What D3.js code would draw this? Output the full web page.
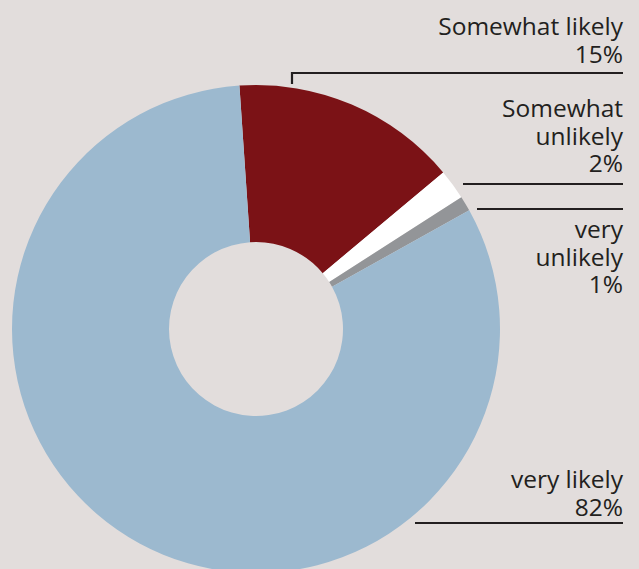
<!DOCTYPE html>
<html>
<head>
<meta charset="utf-8">
<script src="https://cdn.jsdelivr.net/npm/d3@7"></script>
<style>
  body { margin: 0; background: #e2dddc; }
  svg { display: block; }
</style>
</head>
<body>
<div id="container"></div>
<script>
/* DATA */
const categories = ["Somewhat likely", "Somewhat unlikely", "very unlikely", "very likely"];
const values = [15, 2, 1, 82];
const labelLines = [["Somewhat likely", "15%"], ["Somewhat", "unlikely", "2%"], ["very", "unlikely", "1%"], ["very likely", "82%"]];
const colors = ["#7b1216", "#ffffff", "#939598", "#9cb9cf"];

/* CONSTANTS */
const width = 639;
const height = 569;
const cx = 256, cy = 329;
const outerR = 244, innerR = 87;
const startA = -0.068;

const svg = d3.select("#container")
  .append("svg")
  .attr("width", width)
  .attr("height", height)
  .style("background-color", "#e2dddc");

const pie = d3.pie().sort(null).value((d) => d)
  .startAngle(startA).endAngle(startA + 2 * Math.PI);
const arc = d3.arc().innerRadius(innerR).outerRadius(outerR);

const colorScale = d3.scaleOrdinal().domain(categories).range(colors);

const arcs = pie(values);

svg.append("g")
  .attr("transform", `translate(${cx},${cy})`)
  .selectAll("path")
  .data(arcs)
  .join("path")
  .attr("d", arc)
  .attr("fill", (d, i) => colorScale(categories[i]));

// LABELS ---------------------------------------------
const labelRight = 623;
const lineH = 27.5;
// first baseline, leader y, leader start x
const labelPos = [
  { y: 35, ly: 73, lx: 292, tick: 11 },
  { y: 117, ly: 184, lx: 463, tick: 0 },
  { y: 238, ly: 209, lx: 477, tick: 0 },
  { y: 488, ly: 523, lx: 415, tick: 0 },
];

labelLines.forEach((lines, i) => {
  const p = labelPos[i];
  const t = svg.append("text")
    .attr("text-anchor", "end")
    .style("font-family", "'Open Sans', sans-serif")
    .style("font-size", "24.5px")
    .style("fill", "#231f20");
  lines.forEach((s, j) => {
    t.append("tspan")
      .attr("x", labelRight)
      .attr("y", p.y + j * lineH)
      .text(s);
  });
  svg.append("path")
    .attr("d", `M${p.lx},${p.ly + p.tick}V${p.ly}H${labelRight}`)
    .attr("fill", "none")
    .attr("stroke", "#231f20")
    .attr("stroke-width", 2.2);
});
</script>
</body>
</html>
